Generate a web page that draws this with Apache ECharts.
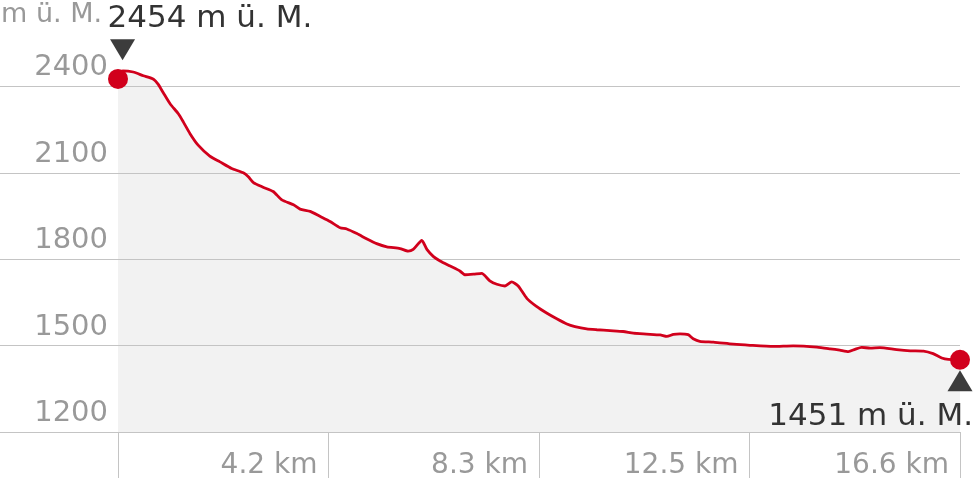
<!DOCTYPE html>
<html>
<head>
<meta charset="utf-8">
<script src="https://cdn.jsdelivr.net/npm/echarts@6/dist/echarts.min.js"></script>
<style>
html,body{margin:0;padding:0;background:#fff;}
#chart{width:974px;height:480px;}
</style>
</head>
<body>
<div id="chart"></div>
<script>
// distance along the route (km)
var distanceKm = [0, 0.08, 0.09, 0.30, 0.50, 0.70, 0.79, 0.89, 1.03, 1.19, 1.29, 1.42, 1.58, 1.81, 2.01, 2.24, 2.47, 2.57, 2.67, 2.86, 3.06, 3.23, 3.46, 3.59, 3.79, 3.98, 4.18, 4.38, 4.51, 4.71, 4.90, 5.10, 5.30, 5.56, 5.72, 5.82, 5.99, 6.09, 6.22, 6.35, 6.55, 6.74, 6.84, 7.01, 7.17, 7.33, 7.47, 7.63, 7.76, 7.89, 8.06, 8.25, 8.45, 8.65, 8.85, 9.01, 9.24, 9.44, 9.70, 9.96, 10.16, 10.42, 10.69, 10.82, 10.95, 11.08, 11.24, 11.34, 11.47, 11.74, 12.13, 12.46, 12.92, 13.31, 13.78, 14.04, 14.23, 14.40, 14.53, 14.66, 14.83, 15.02, 15.35, 15.62, 15.88, 16.07, 16.24, 16.37, 16.6];
// elevation (m ü. M.)
var elevationM = [2426, 2445, 2454, 2450, 2437, 2425, 2408, 2379, 2339, 2305, 2276, 2236, 2196, 2158, 2138, 2115, 2100, 2086, 2066, 2050, 2035, 2006, 1989, 1974, 1966, 1949, 1931, 1909, 1905, 1889, 1871, 1854, 1843, 1837, 1828, 1834, 1865, 1834, 1809, 1794, 1776, 1759, 1746, 1748, 1751, 1725, 1713, 1707, 1721, 1707, 1664, 1636, 1613, 1593, 1575, 1566, 1558, 1555, 1552, 1549, 1543, 1540, 1537, 1532, 1539, 1541, 1538, 1524, 1515, 1512, 1505, 1501, 1497, 1499, 1495, 1489, 1484, 1479, 1487, 1494, 1491, 1493, 1486, 1482, 1481, 1472, 1457, 1452, 1451];
// axis ticks
var yTicks = [1200, 1500, 1800, 2100, 2400];
var xTickKm = [0, 4.15, 8.3, 12.45, 16.6];
var xTickLabels = ['', '4.2 km', '8.3 km', '12.5 km', '16.6 km'];
var unitLabel = 'm ü. M.';

var chart = echarts.init(document.getElementById('chart'), null, {renderer: 'canvas'});

var series = distanceKm.map(function (d, i) { return [d, elevationM[i]]; });
var maxIdx = 0;
elevationM.forEach(function (v, i) { if (v > elevationM[maxIdx]) maxIdx = i; });
var lastIdx = series.length - 1;
var totalKm = distanceKm[lastIdx];

// layout: plot starts at pixel 118, axis spans 0..960
var plotLeftPx = 118, axisWidthPx = 960;
var xMin = -plotLeftPx * totalKm / (axisWidthPx - plotLeftPx);

var FONT = 'DejaVu Sans';
var RED = '#d1001c';
var GRID = '#c4c4c4';
var LABEL = '#999999';
var DARK = '#333333';

var option = {
  animation: false,
  backgroundColor: '#ffffff',
  title: {
    text: unitLabel,
    left: 1,
    top: 0,
    padding: 0,
    textStyle: {fontFamily: FONT, fontSize: 27, fontWeight: 'normal', color: LABEL, lineHeight: 29}
  },
  grid: {left: 0, right: 974 - axisWidthPx, top: -1, bottom: 46, containLabel: false},
  xAxis: {
    type: 'value',
    min: xMin,
    max: totalKm,
    z: 2,
    axisLine: {show: true, lineStyle: {color: GRID, width: 1}},
    axisTick: {show: true, customValues: xTickKm, length: 46, inside: false, lineStyle: {color: GRID, width: 1}},
    splitLine: {show: false},
    axisLabel: {
      show: true,
      customValues: xTickKm.filter(function (v, i) { return xTickLabels[i] !== ''; }),
      formatter: function (v) {
        for (var i = 0; i < xTickKm.length; i++) {
          if (Math.abs(xTickKm[i] - v) < 1e-6) return xTickLabels[i];
        }
        return '';
      },
      align: 'right',
      verticalAlign: 'top',
      padding: [0, 11, 0, 0],
      margin: 20,
      fontFamily: FONT,
      fontSize: 28,
      color: LABEL
    }
  },
  yAxis: {
    type: 'value',
    min: yTicks[0],
    max: 2700,
    interval: yTicks[1] - yTicks[0],
    z: 2,
    axisLine: {show: false},
    axisTick: {show: false},
    splitLine: {show: true, showMaxLine: false, lineStyle: {color: GRID, width: 1}},
    axisLabel: {
      show: true,
      inside: true,
      showMaxLabel: false,
      showMinLabel: true,
      formatter: function (v) { return String(v); },
      margin: 108,
      align: 'right',
      verticalAlign: 'bottom',
      padding: [0, 0, 4, 0],
      fontFamily: FONT,
      fontSize: 29,
      color: LABEL
    }
  },
  series: [
    {
      name: 'area',
      type: 'line',
      z: 1,
      data: series,
      showSymbol: false,
      symbol: 'none',
      lineStyle: {width: 0, opacity: 0},
      areaStyle: {color: '#f2f2f2', opacity: 1, origin: 'start'},
      silent: true
    },
    {
      name: 'profile',
      type: 'line',
      z: 3,
      data: series,
      showSymbol: false,
      symbol: 'none',
      smooth: 0.2,
      lineStyle: {width: 2.8, color: RED},
      markPoint: {
        z: 5,
        silent: true,
        data: [
          {coord: series[maxIdx], symbol: 'triangle', symbolRotate: 180, symbolSize: [25, 21], symbolOffset: [0, -21],
            itemStyle: {color: '#3c3c3c'}, label: {show: false}},
          {coord: series[lastIdx], symbol: 'triangle', symbolSize: [25, 21], symbolOffset: [0, 21],
            itemStyle: {color: '#3c3c3c'}, label: {show: false}},
          {coord: series[maxIdx], symbol: 'circle', symbolSize: 0,
            label: {show: true, position: 'inside', offset: [-15, -52], align: 'left', verticalAlign: 'middle',
              formatter: elevationM[maxIdx] + ' ' + unitLabel, fontFamily: FONT, fontSize: 31, color: DARK}},
          {coord: series[lastIdx], symbol: 'circle', symbolSize: 0,
            label: {show: true, position: 'inside', offset: [13, 57], align: 'right', verticalAlign: 'middle',
              formatter: elevationM[lastIdx] + ' ' + unitLabel, fontFamily: FONT, fontSize: 31, color: DARK}}
        ]
      }
    },
    {
      name: 'ends',
      type: 'scatter',
      z: 4,
      data: [series[0], series[lastIdx]],
      symbol: 'circle',
      symbolSize: 20,
      itemStyle: {color: RED, opacity: 1},
      silent: true
    }
  ]
};
chart.setOption(option);
</script>
</body>
</html>
